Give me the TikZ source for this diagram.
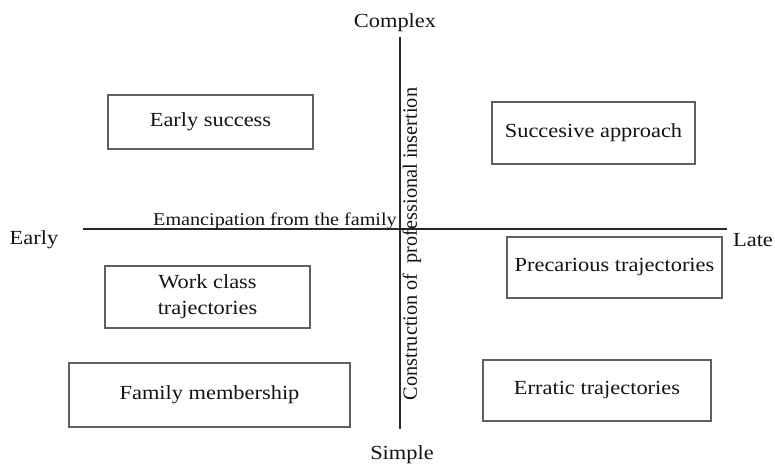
\documentclass[tikz,border=0pt]{standalone}
\usepackage{fontspec}
\setmainfont{Liberation Serif}[FakeStretch=1.12]
\newfontfamily\vertfont{Liberation Serif}
\definecolor{boxgray}{RGB}{95,95,95}
\definecolor{axisgray}{RGB}{40,40,40}
\definecolor{txt}{RGB}{20,20,20}
\begin{document}
\begin{tikzpicture}[x=1pt,y=-1pt,
  catbox/.style={draw=boxgray, line width=1.4pt, rectangle, inner sep=0pt, align=center,
     font=\fontsize{20}{26}\selectfont, text=txt},
  axislabel/.style={font=\fontsize{20}{24}\selectfont, text=txt, inner sep=0pt},
  axisline/.style={draw=axisgray, line width=1.7pt}]
\useasboundingbox[fill=white] (0,0) rectangle (775,465);

% axes
\coordinate (vtop) at (400,37);
\coordinate (vbot) at (400,429);
\coordinate (hleft) at (83,229);
\coordinate (hright) at (727,229);
\draw[axisline] (vtop) -- (vbot);
\draw[axisline] (hleft) -- (hright);

% axis labels
\node[axislabel] (complex) at (395,23) {Complex};
\node[axislabel] (simple) at (402,455) {Simple};
\node[axislabel] (early) at (34,240) {Early};
\node[axislabel] (late) at (753,240) {Late};

\node[text=txt, inner sep=0pt, anchor=base west, font=\fontsize{18}{22}\selectfont] (eman) at (153,225) {Emancipation from the family};
\node[text=txt, inner sep=0pt, rotate=90, font=\vertfont\fontsize{20.3}{22}\selectfont] (constr) at (412,244) {Construction of\ \ professional insertion};

% boxes
\node[catbox, minimum width=205pt, minimum height=54pt] (esuccess) at (210.5,122) {Early success};
\node[catbox, minimum width=203pt, minimum height=62pt] (succ) at (593.5,133) {Succesive approach};
\node[catbox, minimum width=205pt, minimum height=62pt] (work) at (207.5,297) {Work class\\trajectories};
\node[catbox, minimum width=215pt, minimum height=61pt] (prec) at (614.5,267.5) {Precarious trajectories};
\node[catbox, minimum width=281pt, minimum height=64pt] (family) at (209.5,395) {Family membership};
\node[catbox, minimum width=228pt, minimum height=61pt] (erratic) at (597,390.5) {Erratic trajectories};
\end{tikzpicture}
\end{document}
